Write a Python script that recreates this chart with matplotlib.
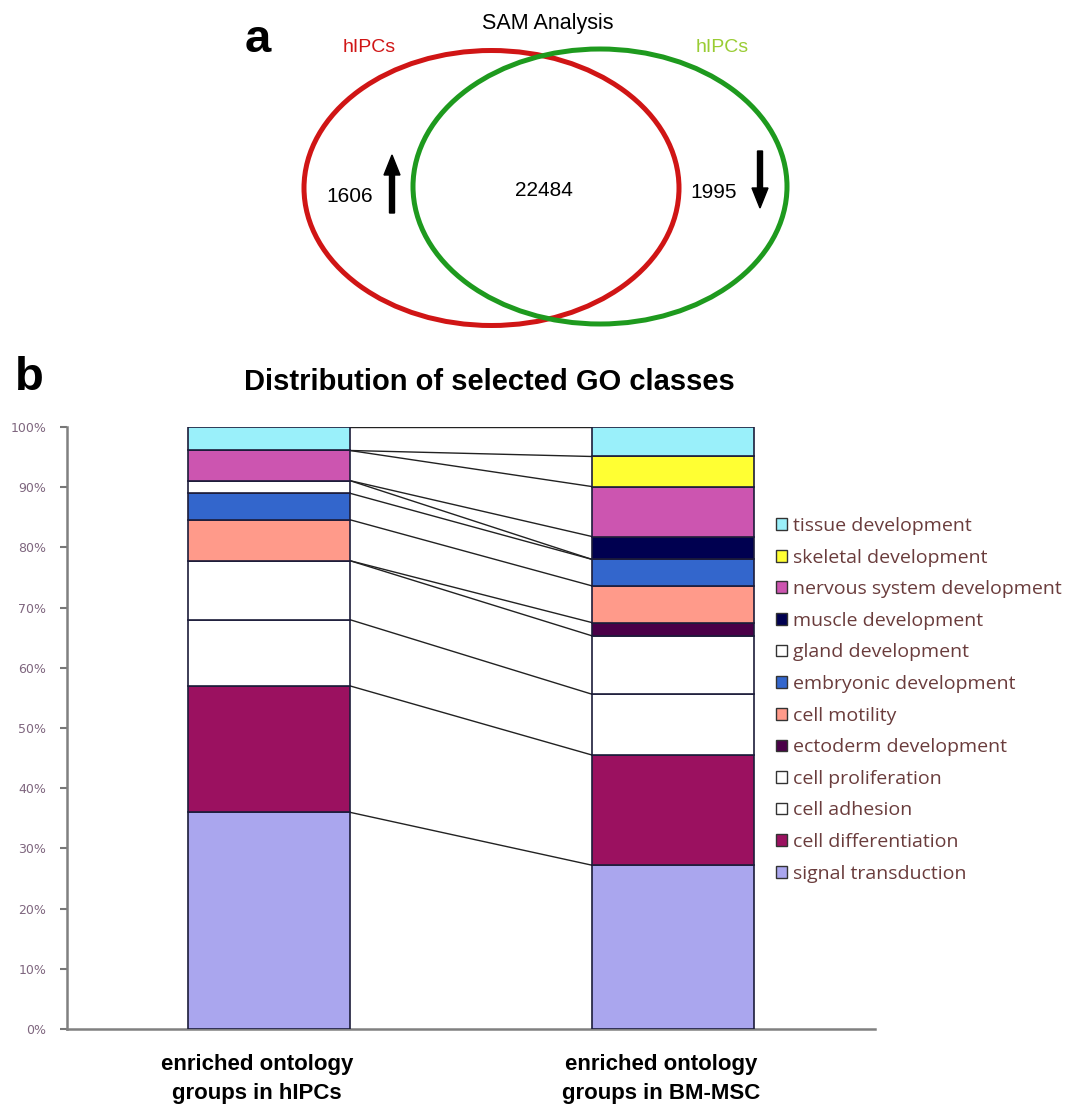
import matplotlib.pyplot as plt
from matplotlib.patches import Ellipse, FancyArrow, Patch

# Venn counts from SAM analysis
up_count = 1606
shared_count = 22484
down_count = 1995

# GO classes, stacked bottom -> top
go_classes = ["signal transduction", "cell differentiation", "cell adhesion",
              "cell proliferation", "ectoderm development", "cell motility",
              "embryonic development", "gland development", "muscle development",
              "nervous system development", "skeletal development", "tissue development"]
groups = ["enriched ontology\ngroups in hIPCs", "enriched ontology\ngroups in BM-MSC"]
hipcs_pct = [36.0, 21.0, 11.0, 9.8, 0.0, 6.8, 4.4, 2.1, 0.0, 5.0, 0.0, 3.9]
bmmsc_pct = [27.2, 18.3, 10.1, 9.7, 2.2, 6.1, 4.4, 0.0, 3.8, 8.3, 5.0, 4.9]

class_colors = ["#aaa6ee", "#9b1160", "#ffffff", "#ffffff", "#4a0048", "#ff9a8a",
                "#3366cc", "#ffffff", "#000050", "#cc55b0", "#ffff33", "#9af0fa"]

fig = plt.figure(figsize=(10.65, 11.06), dpi=100)

# full-figure canvas in pixel units for the Venn diagram and panel letters
bg = fig.add_axes([0, 0, 1, 1])
bg.set_xlim(0, 1065)
bg.set_ylim(1106, 0)
bg.axis("off")

font = "Liberation Sans"
bg.add_patch(Ellipse((491.5, 188), 375, 275, fill=False, ec="#d01515", lw=3.6))
bg.add_patch(Ellipse((600, 186.5), 374, 275, fill=False, ec="#1e9a1e", lw=3.6))

bg.text(258, 40, "a", fontsize=34, fontweight="bold", family=font, ha="center", va="center")
bg.text(548, 24, "SAM Analysis", fontsize=15.5, family=font, ha="center", va="center")
bg.text(369, 48, "hIPCs", fontsize=14, family=font, color="#d01515", ha="center", va="center")
bg.text(722, 48, "hIPCs", fontsize=14, family=font, color="#99cc33", ha="center", va="center")
bg.text(350, 197, f"{up_count}", fontsize=15, family=font, ha="center", va="center")
bg.text(544, 190, f"{shared_count}", fontsize=15, family=font, ha="center", va="center")
bg.text(714, 192, f"{down_count}", fontsize=15, family=font, ha="center", va="center")
bg.add_patch(FancyArrow(392, 213, 0, -58, width=5, head_width=16, head_length=20,
                        length_includes_head=True, color="black"))
bg.add_patch(FancyArrow(760, 151, 0, 57, width=5, head_width=16, head_length=20,
                        length_includes_head=True, color="black"))

bg.text(29, 378, "b", fontsize=34, fontweight="bold", family=font, ha="center", va="center")
bg.text(489, 382, "Distribution of selected GO classes", fontsize=21,
        fontweight="bold", family=font, ha="center", va="center")

# stacked percentage bars
ax = fig.add_axes([67 / 1065, 77 / 1106, 808 / 1065, 602 / 1106])
ax.patch.set_alpha(0)
width = 0.4
x = [0, 1]
bottoms = [0.0, 0.0]
tops = []
for name, color, a, b in zip(go_classes, class_colors, hipcs_pct, bmmsc_pct):
    ax.bar(x, [a, b], width, bottom=bottoms, color=color, edgecolor="#1c1c3a",
           linewidth=1.2, label=name, zorder=3)
    bottoms = [bottoms[0] + a, bottoms[1] + b]
    tops.append(tuple(bottoms))

# series lines joining matching cumulative levels
for left_top, right_top in tops:
    ax.plot([width / 2, 1 - width / 2], [left_top, right_top], color="#222222",
            lw=1.0, zorder=2)

ax.set_xlim(-0.5, 1.5)
ax.set_ylim(0, 100)
ax.set_yticks(range(0, 101, 10))
ax.set_yticklabels([f"{v}%" for v in range(0, 101, 10)], fontsize=9,
                   family="DejaVu Sans", color="#7f667f")
# category labels sit a little left of the bar centres (ticks are hidden)
ax.set_xticks([xi - 0.03 for xi in x])
ax.set_xticklabels(groups, fontsize=16, fontweight="bold", family=font,
                   linespacing=1.5)
ax.tick_params(axis="x", length=0, pad=18)
ax.tick_params(axis="y", length=5, width=1.5, color="#777777", pad=10)
for side in ["top", "right"]:
    ax.spines[side].set_visible(False)
for side in ["left", "bottom"]:
    ax.spines[side].set_color("#808080")
    ax.spines[side].set_linewidth(1.8)

handles = [Patch(facecolor=c, edgecolor="#333333", linewidth=1.0) for c in class_colors]
fig.legend(handles[::-1], go_classes[::-1], loc="upper left",
           bbox_to_anchor=(776 / 1065, 1 - 517 / 1106), frameon=False,
           handlelength=0.55, handleheight=0.55, handletextpad=0.3,
           labelspacing=0.7, borderaxespad=0, borderpad=0,
           prop={"family": "Open Sans", "size": 14}, labelcolor="#6a3c3c")

fig.savefig("out.png", dpi=100)
